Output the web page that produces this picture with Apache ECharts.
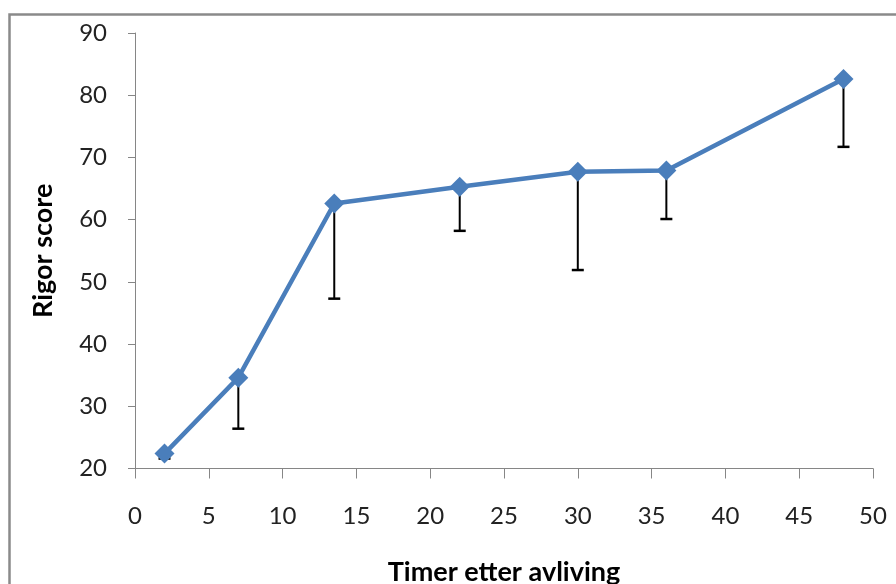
<!DOCTYPE html>
<html>
<head>
<meta charset="utf-8">
<script src="https://cdn.jsdelivr.net/npm/echarts@6/dist/echarts.min.js"></script>
<style>html,body{margin:0;padding:0;background:#fff;}#c{width:896px;height:584px;}</style>
</head>
<body>
<div id="c"></div>
<script>
var hours = [2, 7, 13.5, 22, 30, 36, 48];
var rigorMean = [22.4, 34.6, 62.6, 65.3, 67.7, 67.9, 82.6];
var rigorLower = [21.6, 26.4, 47.3, 58.2, 51.9, 60.1, 71.7];
var xTicks = [0, 5, 10, 15, 20, 25, 30, 35, 40, 45, 50];
var yTicks = [20, 30, 40, 50, 60, 70, 80, 90];

var lineData = hours.map(function (h, i) { return [h, rigorMean[i]]; });
var errData = hours.map(function (h, i) { return [h, rigorLower[i], rigorMean[i]]; });

var chart = echarts.init(document.getElementById('c'), null, { renderer: 'canvas' });
var fontFam = 'Lato, "Open Sans", sans-serif';
chart.setOption({
  animation: false,
  backgroundColor: '#ffffff',
  graphic: [{
    type: 'rect', silent: true, z: -1,
    shape: { x: 9.5, y: 14.5, width: 920, height: 620 },
    style: { fill: 'none', stroke: '#8a8a8a', lineWidth: 2.5 }
  }],
  grid: { left: 135, right: 23, top: 33, bottom: 115.5, containLabel: false, outerBoundsMode: 'none' },
  xAxis: {
    type: 'value', min: 0, max: 50, interval: 5,
    name: 'Timer etter avliving', nameLocation: 'middle', nameGap: 90,
    nameTextStyle: { fontFamily: fontFam, fontWeight: 'bold', fontSize: 27, color: '#000' },
    axisLine: { show: true, lineStyle: { color: '#868686', width: 1 } },
    axisTick: { show: true, length: 10, lineStyle: { color: '#868686' } },
    axisLabel: { fontFamily: fontFam, fontSize: 24, color: '#222', margin: 36,
      formatter: function (v) { return xTicks.indexOf(v) >= 0 ? String(v) : ''; } },
    splitLine: { show: false }
  },
  yAxis: {
    type: 'value', min: 20, max: 90, interval: 10,
    name: 'Rigor score', nameLocation: 'middle', nameGap: 78, nameRotate: 90,
    nameTextStyle: { fontFamily: fontFam, fontWeight: 'bold', fontSize: 27, color: '#000' },
    axisLine: { show: true, lineStyle: { color: '#868686', width: 1 } },
    axisTick: { show: true, length: 7, lineStyle: { color: '#868686' } },
    axisLabel: { fontFamily: fontFam, fontSize: 24, color: '#222', margin: 28,
      formatter: function (v) { return yTicks.indexOf(v) >= 0 ? String(v) : ''; } },
    splitLine: { show: false }
  },
  series: [{
    type: 'custom',
    name: 'error',
    z: 1,
    data: errData,
    renderItem: function (params, api) {
      var x = api.value(0);
      var lo = api.coord([x, api.value(1)]);
      var hi = api.coord([x, api.value(2)]);
      var hw = 6;
      return {
        type: 'group',
        children: [
          { type: 'line', shape: { x1: lo[0], y1: hi[1], x2: lo[0], y2: lo[1] },
            style: { stroke: '#000', lineWidth: 2 } },
          { type: 'line', shape: { x1: lo[0] - hw, y1: lo[1], x2: lo[0] + hw, y2: lo[1] },
            style: { stroke: '#000', lineWidth: 2.5 } }
        ]
      };
    }
  }, {
    type: 'line',
    name: 'Rigor',
    z: 3,
    data: lineData,
    symbol: 'diamond',
    symbolSize: 20,
    lineStyle: { color: '#4a7ebb', width: 4.5 },
    itemStyle: { color: '#4a7ebb' }
  }]
});
</script>
</body>
</html>
